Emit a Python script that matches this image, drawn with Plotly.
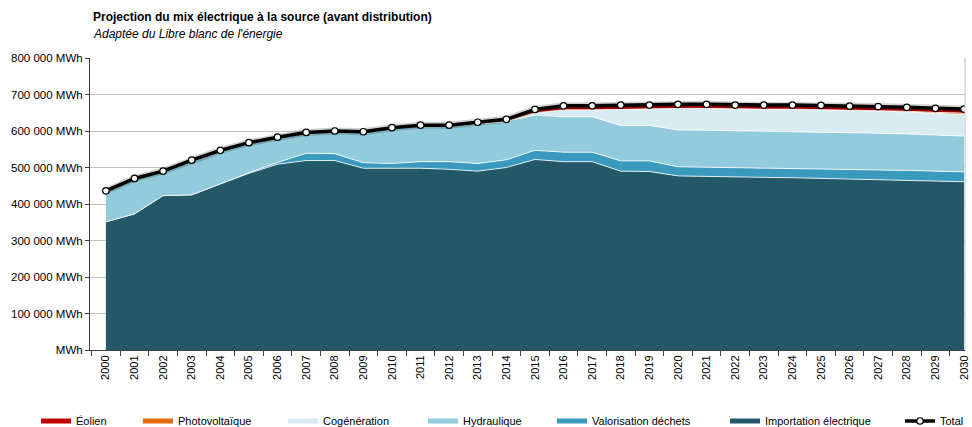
import plotly.graph_objects as go

# Years on the category axis
years = [str(y) for y in range(2000, 2031)]

# Energy sources, MWh per year (stacked bottom to top)
importation = [351000, 373000, 423000, 425000, 455000, 484000, 509000, 519000, 519000, 498000,
               498000, 498000, 495000, 490000, 500000, 522000, 516000, 516000, 490000, 489000,
               477000, 475000, 474000, 473000, 472000, 470000, 469000, 467000, 465000, 463000, 461000]
valorisation = [0, 0, 0, 0, 0, 2000, 5000, 20000, 19000, 15000,
                13000, 18000, 21000, 21000, 21000, 25000, 26000, 26000, 28000, 29000,
                25000, 26000, 26000, 26000, 26000, 27000, 27000, 27000, 27000, 27000, 27000]
hydraulique = [85000, 97000, 67000, 95000, 92000, 82000, 69000, 57000, 62000, 85000,
               98000, 100000, 98000, 109000, 105000, 97000, 97000, 97000, 97000, 97000,
               101000, 101000, 101000, 101000, 101000, 101000, 100000, 100000, 100000, 99000, 98000]
cogeneration = [0, 0, 0, 0, 0, 0, 0, 0, 0, 0,
                0, 0, 0, 0, 0, 6000, 19000, 19000, 45000, 45000,
                59000, 60000, 59000, 60000, 61000, 61000, 61000, 61000, 60000, 59000, 59000]
photovoltaique = [0, 0, 0, 0, 0, 0, 0, 0, 0, 0,
                  0, 0, 0, 0, 0, 0, 0, 0, 0, 0,
                  0, 0, 0, 0, 0, 0, 0, 1000, 2000, 3000, 4000]
eolien = [0, 0, 0, 0, 0, 0, 0, 0, 0, 0,
          0, 0, 2000, 4000, 6000, 9000, 11000, 11000, 11000, 11000,
          11000, 11000, 11000, 11000, 11000, 11000, 11000, 11000, 11000, 11000, 11000]
total = [436000, 470000, 490000, 520000, 547000, 568000, 583000, 596000, 600000, 598000,
         609000, 616000, 616000, 624000, 632000, 659000, 669000, 669000, 671000, 671000,
         673000, 673000, 671000, 671000, 671000, 670000, 668000, 667000, 665000, 662000, 660000]

# Y axis ticks
y_tickvals = [0, 100000, 200000, 300000, 400000, 500000, 600000, 700000, 800000]
y_ticktext = ["MWh", "100 000 MWh", "200 000 MWh", "300 000 MWh", "400 000 MWh",
              "500 000 MWh", "600 000 MWh", "700 000 MWh", "800 000 MWh"]

FONT = "Liberation Sans, Arial, sans-serif"

# name, values, fill colour, legend slot, legend text left edge (px)
series = [
    ("Importation électrique", importation, "#225868", "legend6", 765),
    ("Valorisation déchets", valorisation, "#3A9ABD", "legend5", 592),
    ("Hydraulique", hydraulique, "#92CCDC", "legend4", 463),
    ("Cogénération", cogeneration, "#D8ECF2", "legend3", 323),
    ("Photovoltaïque", photovoltaique, "#E46C0A", "legend2", 178),
    ("Éolien", eolien, "#C00000", "legend", 76),
]

fig = go.Figure()

for name, vals, color, _, _ in series:
    fig.add_trace(go.Scatter(
        x=years, y=vals, name=name, mode="lines", stackgroup="mix",
        fillcolor=color, line=dict(color="white", width=0.8),
        showlegend=False, hoverinfo="skip",
    ))

# Legend swatches
for name, vals, color, leg, _ in series:
    fig.add_trace(go.Scatter(
        x=[None], y=[None], name=name, mode="lines",
        line=dict(color=color, width=5), legend=leg,
    ))

# Soft shadow under the total line
fig.add_trace(go.Scatter(
    x=years, y=total, mode="lines", showlegend=False, hoverinfo="skip",
    line=dict(color="rgba(0,0,0,0.18)", width=7),
))
fig.add_trace(go.Scatter(
    x=years, y=total, name="Total", mode="lines+markers",
    line=dict(color="black", width=3.5),
    marker=dict(symbol="circle", size=6.5, color="white", line=dict(color="black", width=1.2)),
    legend="legend7",
))

W, H = 972, 427
legend_y = 1 - 421 / H
TEXT_OFFSET = 40
layout_legends = {}
for name, vals, color, leg, tx in series + [("Total", None, None, "legend7", 940)]:
    layout_legends[leg] = dict(
        x=(tx - TEXT_OFFSET) / W, y=legend_y, xref="container", yref="container",
        xanchor="left", yanchor="middle", orientation="h",
        bgcolor="rgba(0,0,0,0)", borderwidth=0,
        font=dict(family=FONT, size=11, color="black"),
    )

fig.update_layout(
    width=W, height=H,
    margin=dict(l=90, r=2, t=58, b=77),
    paper_bgcolor="white", plot_bgcolor="white",
    font=dict(family=FONT, size=11, color="black"),
    **layout_legends,
)

fig.update_xaxes(
    type="category", range=[-0.556, 30.035],
    tickson="boundaries", ticks="outside", ticklen=5, tickcolor="#404040",
    showline=True, linecolor="#404040", linewidth=1,
    showgrid=False, tickangle=-90,
    tickfont=dict(family=FONT, size=11, color="black"),
)
fig.update_yaxes(
    range=[0, 800000], tickvals=y_tickvals, ticktext=y_ticktext,
    ticks="outside", ticklen=4, tickcolor="#404040",
    showline=True, linecolor="#404040", linewidth=1,
    showgrid=True, gridcolor="#C0C0C0", gridwidth=1, zeroline=False,
    tickfont=dict(family=FONT, size=11.5, color="black"),
)

# Right edge of the plot area
fig.add_shape(type="line", xref="paper", yref="paper", x0=1, x1=1, y0=0, y1=1,
              line=dict(color="#C0C0C0", width=1))

fig.add_annotation(
    text="<b>Projection du mix électrique à la source (avant distribution)</b>",
    xref="paper", yref="paper", x=0, y=1, xanchor="left", yanchor="bottom",
    xshift=1, yshift=32, showarrow=False,
    font=dict(family=FONT, size=12, color="black"),
)
fig.add_annotation(
    text="<i>Adaptée du Libre blanc de l'énergie</i>",
    xref="paper", yref="paper", x=0, y=1, xanchor="left", yanchor="bottom",
    xshift=1, yshift=15, showarrow=False,
    font=dict(family=FONT, size=12, color="black"),
)

fig.write_html("out.html")
